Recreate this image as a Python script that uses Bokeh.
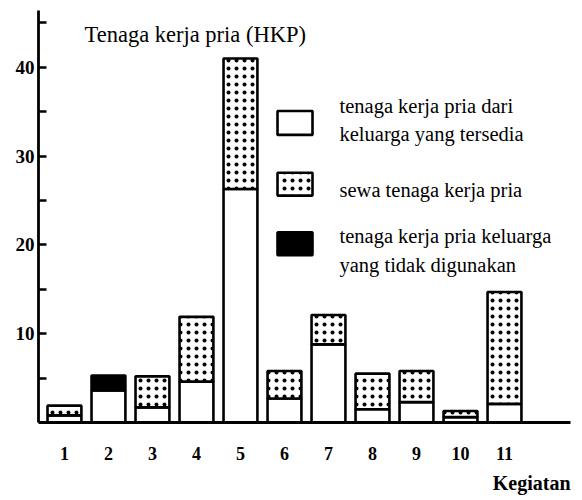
from bokeh.plotting import figure
from bokeh.models import (ColumnDataSource, FixedTicker, Label, Range1d, BoxAnnotation, Title)
from bokeh.embed import file_html
from bokeh.resources import INLINE

kegiatan = [1, 2, 3, 4, 5, 6, 7, 8, 9, 10, 11]
tk_keluarga = [0.8, 3.6, 1.7, 4.6, 26.3, 2.7, 8.8, 1.5, 2.3, 0.6, 2.1]
tk_sewa = [1.1, 0.0, 3.5, 7.3, 14.7, 3.1, 3.3, 4.0, 3.5, 0.7, 12.6]
tk_tidak = [0.0, 1.7, 0.0, 0.0, 0.0, 0.0, 0.0, 0.0, 0.0, 0.0, 0.0]
y_ticks = [10, 20, 30, 40]
y_minor = [5, 15, 25, 35, 45]
x_labels = [str(k) for k in kegiatan]
legend_labels = [
    ["tenaga kerja pria dari", "keluarga yang tersedia"],
    ["sewa tenaga kerja pria"],
    ["tenaga kerja pria keluarga", "yang tidak digunakan"],
]

SERIF = "Liberation Serif"
X0, X1 = 0.41, 12.5
Y0, Y1 = 0.0, 46.4
FL, FR, FT, FB = 38, 570, 10, 424   # frame edges in page pixels


def px(xp):
    return X0 + (xp - FL) * (X1 - X0) / (FR - FL)


def py(yp):
    return Y0 + (FB - yp) * (Y1 - Y0) / (FB - FT)


p = figure(width=582, height=500, x_range=Range1d(X0, X1), y_range=Range1d(Y0, Y1),
           output_backend="svg", toolbar_location=None,
           min_border_left=FL, min_border_right=582 - FR, min_border_top=FT,
           min_border_bottom=500 - FB)
p.xgrid.visible = False
p.ygrid.visible = False
p.outline_line_color = None

src_k = ColumnDataSource(dict(x=kegiatan, top=tk_keluarga))
sx = [x for x, s in zip(kegiatan, tk_sewa) if s > 0]
sb = [k for k, s in zip(tk_keluarga, tk_sewa) if s > 0]
st = [k + s for k, s in zip(tk_keluarga, tk_sewa) if s > 0]
src_s = ColumnDataSource(dict(x=sx, bottom=sb, top=st))
tx = [x for x, t in zip(kegiatan, tk_tidak) if t > 0]
tb = [k for k, t in zip(tk_keluarga, tk_tidak) if t > 0]
tt = [k + t for k, t in zip(tk_keluarga, tk_tidak) if t > 0]
src_t = ColumnDataSource(dict(x=tx, bottom=tb, top=tt))

W = 0.77
LW = 2.6
HATCH = dict(hatch_pattern="dot", hatch_color="black", hatch_scale=8, hatch_weight=2.4)
r1 = p.vbar(x="x", width=W, bottom=0, top="top", source=src_k,
            fill_color="white", line_color="black", line_width=LW)
r2 = p.vbar(x="x", width=W, bottom="bottom", top="top", source=src_s,
            fill_color="white", line_color="black", line_width=LW, **HATCH)
r3 = p.vbar(x="x", width=W, bottom="bottom", top="top", source=src_t,
            fill_color="black", line_color="black", line_width=LW)

# axes
p.yaxis.ticker = FixedTicker(ticks=y_ticks, minor_ticks=y_minor)
p.yaxis.major_tick_in = 8
p.yaxis.major_tick_out = 0
p.yaxis.minor_tick_in = 8
p.yaxis.minor_tick_out = 0
p.yaxis.major_tick_line_width = 2.5
p.yaxis.minor_tick_line_width = 2.5
p.yaxis.axis_line_width = 2.8
p.yaxis.major_label_text_font = SERIF
p.yaxis.major_label_text_font_style = "bold"
p.yaxis.major_label_text_font_size = "19px"
p.yaxis.major_label_text_color = "black"
p.yaxis.major_label_standoff = 4

p.xaxis.ticker = FixedTicker(ticks=kegiatan, minor_ticks=[])
p.xaxis.major_label_overrides = {k: lab for k, lab in zip(kegiatan, x_labels)}
p.xaxis.major_tick_in = 0
p.xaxis.major_tick_out = 0
p.xaxis.minor_tick_in = 0
p.xaxis.minor_tick_out = 0
p.xaxis.axis_line_width = 2.8
p.xaxis.major_label_text_font = SERIF
p.xaxis.major_label_text_font_style = "bold"
p.xaxis.major_label_text_font_size = "18px"
p.xaxis.major_label_text_color = "black"
p.xaxis.major_label_standoff = 24

p.add_layout(Title(text="Kegiatan", align="right", text_font=SERIF, text_font_style="bold",
                   text_font_size="20px", text_color="black", standoff=14), "below")

p.add_layout(Label(x=px(84), y=py(34), text="Tenaga kerja pria (HKP)", text_font=SERIF,
                   text_font_size="22.5px", text_baseline="alphabetic", text_align="left",
                   text_color="black"))

# legend (drawn manually: boxes + multi-line labels)
box_pix = [(111, 135), (173, 196), (233, 256)]
line_base = [[106, 134], [190], [237, 266]]
styles = [dict(fill_color="white"), dict(fill_color="white", **HATCH), dict(fill_color="black")]
for (bt, bb), bases, lab, sty in zip(box_pix, line_base, legend_labels, styles):
    p.add_layout(BoxAnnotation(left=px(277), right=px(312), top=py(bt), bottom=py(bb),
                               line_color="black", line_width=LW, line_alpha=1.0,
                               fill_alpha=1.0, **sty))
    for yb, txt in zip(bases, lab):
        p.add_layout(Label(x=px(339), y=py(yb), text=txt, text_font=SERIF,
                           text_font_size="20.5px", text_baseline="alphabetic",
                           text_align="left", text_color="black"))

open("out.html", "w").write(file_html(p, INLINE))
